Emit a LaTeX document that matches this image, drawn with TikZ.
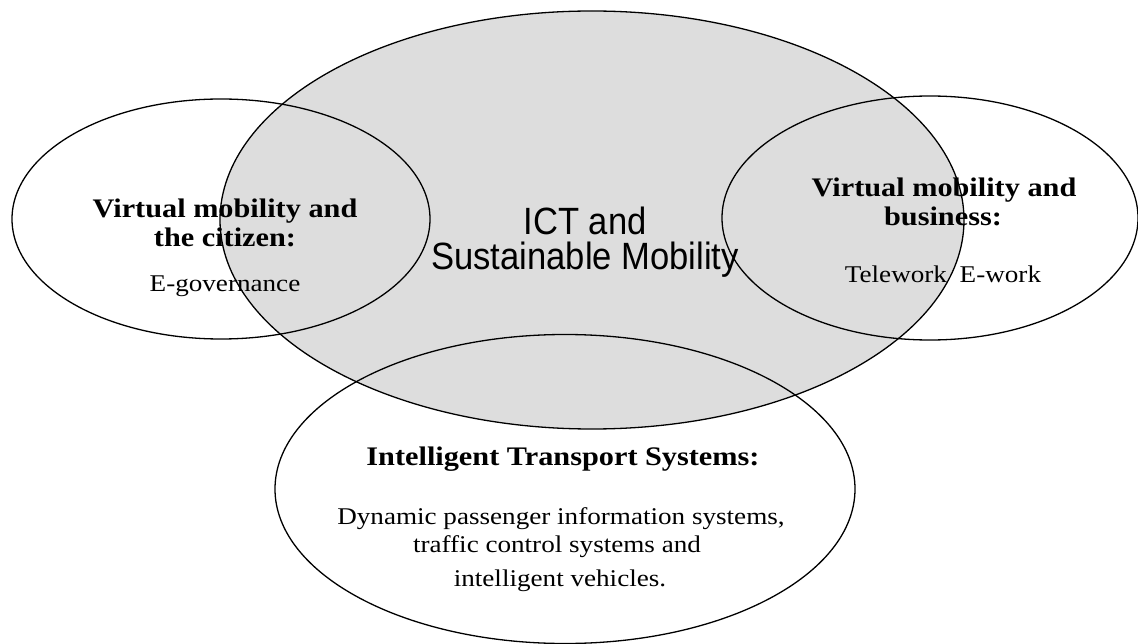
\documentclass[tikz,border=0pt]{standalone}
\usepackage{fontspec}
\setmainfont{Liberation Serif}[FakeStretch=1.13]
\newfontfamily\ictfont{Liberation Sans}[FakeStretch=0.91]
\definecolor{vgrey}{RGB}{221,221,221}
\tikzset{
  venn/.style={ellipse, draw=black, line width=1.3pt, inner sep=0pt},
  hd/.style={anchor=base, inner sep=0pt, font=\fontsize{26.8}{30}\selectfont\bfseries},
  bd/.style={anchor=base, inner sep=0pt, font=\fontsize{24}{28}\selectfont},
  ict/.style={anchor=base, inner sep=0pt, font=\fontsize{38}{40}\selectfont\ictfont}
}
\usetikzlibrary{shapes.geometric}
\begin{document}
\begin{tikzpicture}[x=1pt,y=-1pt]
\useasboundingbox (0,0) rectangle (1138,644);
% central ellipse (filled)
\node[venn, fill=vgrey, minimum width=744pt, minimum height=418pt] (main) at (592,220) {};
% outer ellipses (outlines only)
\node[venn, minimum width=418pt, minimum height=240pt] (left) at (221,219) {};
\node[venn, minimum width=416pt, minimum height=244pt] (right) at (930,218) {};
\node[venn, minimum width=580pt, minimum height=309pt] (bottom) at (565,489) {};
% central text
\node[ict] (ict1) at (585,235) {ICT and};
\node[ict] (ict2) at (585,270) {Sustainable Mobility};
% left text
\node[hd] (l1) at (225,218) {Virtual mobility and};
\node[hd] (l2) at (225,247) {the citizen:};
\node[bd] (l3) at (225,292) {E-governance};
% right text
\node[hd] (r1) at (944,197) {Virtual mobility and};
\node[hd] (r2) at (943,226) {business:};
\node[bd] (r3) at (943,283) {Telework\hspace{6pt} E-work};
% bottom text
\node[hd] (b1) at (563,465) {Intelligent Transport Systems:};
\node[bd] (b2) at (561,524) {Dynamic passenger information systems,};
\node[bd] (b3) at (557,552) {traffic control systems and};
\node[bd] (b4) at (560,586) {intelligent vehicles.};
\end{tikzpicture}
\end{document}
